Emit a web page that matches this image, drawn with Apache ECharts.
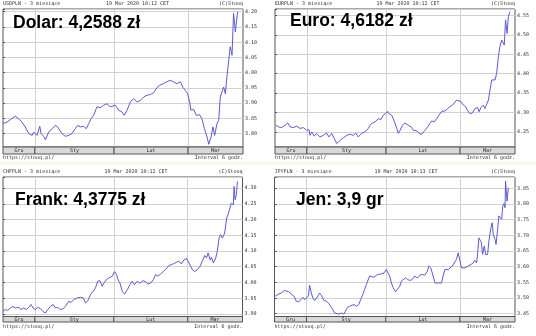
<!DOCTYPE html>
<html><head><meta charset="utf-8">
<script src="https://cdn.jsdelivr.net/npm/echarts@6/dist/echarts.min.js"></script>
<style>html,body{margin:0;padding:0;background:#fff}#c{width:536px;height:336px}</style>
</head><body><div id="c"></div>
<script>
// ---- data ----
const dayMax = 94; // days shown (19 Dec 2019 .. ~22 Mar 2020)
const monthNames = ['Gru', 'Sty', 'Lut', 'Mar'];
const monthEdges = [0, 12.5, 43.5, 72.5, 94];

const usdDays = [0,1.6,2.9,4.8,6.1,7.4,8.7,10.1,11.4,12.0,13.3,14.4,14.9,15.9,16.6,17.9,19.2,20.5,21.4,22.2,23.1,24.4,25.7,27.0,28.3,29.2,30.3,31.6,32.6,33.6,34.5,35.5,36.8,38.1,39.4,40.7,42.0,42.7,44.0,45.3,46.6,47.5,48.6,49.9,51.2,52.5,53.8,55.1,56.4,57.7,59.0,60.3,61.4,62.9,64.2,65.5,66.8,68.1,69.5,70.5,71.4,72.3,73.1,73.6,74.7,75.7,77.0,77.9,78.9,79.9,80.6,81.5,82.2,82.9,83.8,84.5,85.1,85.8,86.4,87.1,87.7,88.4,89.0,89.7,90.3,91.0,91.9];
const usdRates = [3.833,3.838,3.846,3.857,3.849,3.838,3.822,3.800,3.794,3.805,3.794,3.824,3.800,3.791,3.780,3.805,3.816,3.827,3.822,3.811,3.800,3.791,3.794,3.800,3.816,3.827,3.822,3.824,3.816,3.833,3.849,3.860,3.888,3.885,3.893,3.898,3.888,3.882,3.893,3.877,3.871,3.860,3.877,3.904,3.915,3.904,3.909,3.920,3.926,3.928,3.934,3.951,3.959,3.964,3.970,3.975,3.970,3.964,3.970,3.951,3.942,3.931,3.904,3.877,3.879,3.860,3.862,3.849,3.816,3.789,3.765,3.789,3.822,3.794,3.833,3.844,3.920,3.926,3.953,3.931,3.986,3.992,4.085,4.057,4.195,4.134,4.200];

const eurDays = [0.3,1.3,2.6,3.9,5.0,5.9,7.2,8.5,9.8,11.1,12.4,13.3,13.7,14.4,15.4,16.3,17.6,18.9,20.2,21.1,22.2,23.2,24.2,25.5,26.8,28.1,29.4,30.7,31.6,32.6,33.9,35.2,36.6,37.2,38.1,39.2,40.5,41.5,42.4,43.3,44.1,44.6,45.7,46.7,47.7,48.3,49.0,49.9,50.9,52.2,53.3,54.2,55.5,56.4,57.4,58.7,59.8,60.7,61.4,62.4,63.3,64.2,65.3,66.6,67.6,68.5,69.5,70.2,71.1,71.8,72.8,73.8,74.7,75.5,76.4,77.3,78.3,79.4,79.9,80.7,81.6,82.2,82.9,83.6,84.2,84.9,85.5,86.2,86.8,87.5,88.1,88.8,89.4,89.8,90.3,90.9,91.4,92.0];
const eurRates = [4.267,4.263,4.261,4.267,4.273,4.263,4.261,4.265,4.259,4.261,4.254,4.256,4.241,4.250,4.239,4.246,4.237,4.241,4.247,4.237,4.246,4.233,4.220,4.228,4.235,4.241,4.244,4.241,4.247,4.237,4.246,4.250,4.259,4.267,4.273,4.276,4.284,4.282,4.293,4.297,4.303,4.297,4.293,4.278,4.259,4.246,4.254,4.267,4.273,4.267,4.263,4.254,4.253,4.246,4.244,4.254,4.263,4.272,4.278,4.276,4.284,4.293,4.303,4.304,4.310,4.315,4.319,4.316,4.332,4.334,4.328,4.319,4.315,4.304,4.297,4.299,4.310,4.313,4.302,4.313,4.319,4.310,4.315,4.332,4.358,4.384,4.388,4.384,4.401,4.444,4.470,4.487,4.483,4.474,4.539,4.504,4.547,4.560];

const chfDays = [0,0.9,1.8,2.9,3.9,4.8,6.2,7.1,8.1,9.2,10.1,11.0,11.8,12.7,13.6,14.7,15.7,16.6,17.6,18.6,19.7,20.6,21.5,22.5,23.6,24.5,25.8,26.7,27.8,29.1,30.4,31.5,32.4,33.3,34.3,35.4,36.3,37.2,38.0,38.9,39.6,40.6,41.5,42.9,43.8,44.6,45.1,45.9,46.8,47.7,48.8,49.8,50.7,51.6,52.7,53.7,55.0,56.0,56.9,57.9,59.0,59.9,60.8,61.9,62.9,63.8,65.1,66.1,67.1,68.2,69.1,70.0,71.0,72.1,73.0,73.6,74.3,75.2,76.3,77.3,78.2,79.2,79.9,80.5,81.3,81.8,82.6,83.5,84.1,84.8,85.4,86.1,87.0,87.8,88.3,89.1,89.6,90.4,90.7,91.1,91.6,92.0];
const chfRates = [3.908,3.914,3.911,3.919,3.924,3.919,3.921,3.914,3.919,3.914,3.921,3.930,3.919,3.914,3.921,3.917,3.908,3.903,3.914,3.924,3.930,3.919,3.921,3.914,3.917,3.924,3.940,3.937,3.946,3.951,3.953,3.951,3.935,3.942,3.961,3.972,3.983,4.004,4.006,3.988,3.998,4.009,4.014,4.020,4.035,4.025,4.009,3.998,3.972,3.963,3.977,3.993,4.004,3.993,4.004,3.998,4.006,4.002,3.995,3.998,4.009,4.025,4.020,4.027,4.035,4.041,4.054,4.057,4.060,4.065,4.067,4.059,4.072,4.076,4.062,4.057,4.041,4.035,4.041,4.051,4.067,4.086,4.078,4.094,4.072,4.080,4.062,4.078,4.099,4.141,4.152,4.141,4.157,4.205,4.215,4.237,4.252,4.247,4.305,4.263,4.279,4.321];

const jpyDays = [0.3,1.3,2.6,3.9,4.6,5.5,6.5,7.6,8.5,9.4,10.4,11.1,11.7,12.4,12.8,13.3,13.7,14.4,15.0,15.7,16.3,17.0,17.6,18.3,19.3,20.2,21.1,21.9,22.8,23.5,24.2,25.1,26.1,27.2,27.7,28.5,29.4,30.0,31.1,32.0,32.9,33.7,34.6,35.2,35.9,36.6,37.2,37.9,38.9,39.8,40.7,41.8,42.8,43.7,44.4,45.0,45.7,46.3,47.3,48.0,49.0,49.6,50.3,51.2,52.0,52.9,53.8,54.8,55.9,56.8,57.7,58.7,59.8,60.3,61.1,62.0,62.7,63.3,64.2,65.3,65.9,66.6,67.2,67.9,68.5,69.5,70.2,71.1,71.8,72.5,73.1,73.8,74.4,75.1,75.7,76.8,77.7,78.3,79.0,79.4,79.9,80.5,80.9,81.3,82.0,82.5,83.3,83.8,84.6,85.1,85.5,86.2,86.6,87.2,87.7,88.1,88.8,89.2,89.7,90.1,90.3,90.9,91.4];
const jpyRates = [3.506,3.511,3.516,3.524,3.527,3.520,3.513,3.506,3.490,3.488,3.495,3.502,3.495,3.492,3.502,3.509,3.541,3.516,3.500,3.492,3.488,3.506,3.516,3.509,3.492,3.490,3.484,3.474,3.463,3.452,3.447,3.449,3.452,3.449,3.458,3.470,3.474,3.479,3.479,3.474,3.479,3.495,3.513,3.527,3.543,3.548,3.570,3.564,3.566,3.573,3.575,3.577,3.580,3.591,3.586,3.570,3.548,3.534,3.520,3.527,3.538,3.554,3.559,3.564,3.559,3.556,3.559,3.570,3.564,3.573,3.575,3.573,3.586,3.602,3.596,3.570,3.548,3.543,3.548,3.548,3.570,3.591,3.596,3.591,3.596,3.602,3.607,3.623,3.644,3.639,3.596,3.602,3.596,3.598,3.602,3.607,3.612,3.620,3.612,3.644,3.692,3.698,3.676,3.639,3.666,3.639,3.639,3.682,3.724,3.740,3.703,3.687,3.671,3.719,3.762,3.767,3.751,3.793,3.801,3.788,3.873,3.809,3.852];

const pairs = ['USDPLN', 'EURPLN', 'CHFPLN', 'JPYPLN'];
const headlines = ['Dolar: 4,2588 zł', 'Euro: 4,6182 zł', 'Frank: 4,3775 zł', 'Jen: 3,9 gr'];
const stamps = ['19 Mar 2020 10:12 CET', '19 Mar 2020 10:12 CET', '19 Mar 2020 10:12 CET', '19 Mar 2020 10:13 CET'];
const seriesDays = [usdDays, eurDays, chfDays, jpyDays];
const seriesRates = [usdRates, eurRates, chfRates, jpyRates];
const yRanges = [[3.756, 4.209], [4.211, 4.567], [3.892, 4.335], [3.441, 3.886]];

// ---- layout ----
const layout = [
  {left: 3,   top: 9,   width: 240, height: 138,   bandH: 7,   titleX: 13,  titleY: 23.5, dateX: 137.5, headY: 4,   footY: 158, split: 9},
  {left: 275, top: 9,   width: 240, height: 138,   bandH: 7,   titleX: 290, titleY: 21.5, dateX: 408,   headY: 4,   footY: 158, split: 7},
  {left: 3,   top: 177, width: 239.5, height: 139.5, bandH: 5.5, titleX: 15,  titleY: 200,  dateX: 136,   headY: 172, footY: 327, split: 9},
  {left: 274.5, top: 177, width: 240.5, height: 139.5, bandH: 5.5, titleX: 296, titleY: 200.5, dateX: 406, headY: 172, footY: 327, split: 9}
];

const mono = '"DejaVu Sans Mono"';
const grids = [], xAxes = [], yAxes = [], series = [], graphics = [];

graphics.push({type: 'rect', shape: {x: 0, y: 162, width: 536, height: 3}, style: {fill: '#fbf8e8'}, silent: true});

layout.forEach((L, i) => {
  grids.push({left: L.left, top: L.top, width: L.width, height: L.height, show: true,
    borderColor: '#555', borderWidth: 1, backgroundColor: '#fff', containLabel: false});
  grids.push({left: L.left, top: L.top + L.height, width: L.width, height: L.bandH, show: false, containLabel: false});

  xAxes.push({gridIndex: 2 * i, type: 'value', min: 0, max: dayMax,
    axisLine: {show: false}, axisLabel: {show: false},
    axisTick: {show: false, customValues: monthEdges.slice(1, 4)},
    splitLine: {show: true, lineStyle: {color: '#d2d2d2', width: 1}}});
  xAxes.push({gridIndex: 2 * i + 1, type: 'value', min: 0, max: dayMax, show: false});

  const [yMin, yMax] = yRanges[i];
  yAxes.push({gridIndex: 2 * i, type: 'value', position: 'right', min: yMin, max: yMax, splitNumber: L.split, scale: true,
    axisLine: {show: false},
    axisTick: {show: true, length: 2, lineStyle: {color: '#555'}},
    axisLabel: {fontSize: 5, fontFamily: mono, color: '#333', margin: 2,
      showMinLabel: false, showMaxLabel: false, formatter: v => v.toFixed(2)},
    splitLine: {show: true, lineStyle: {color: '#d2d2d2', width: 1}}});
  yAxes.push({gridIndex: 2 * i, type: 'value', position: 'left', min: yMin, max: yMax, splitNumber: L.split, scale: true,
    axisLine: {show: false}, axisLabel: {show: false}, splitLine: {show: false},
    axisTick: {show: true, inside: true, length: 2, lineStyle: {color: '#555'}}});
  yAxes.push({gridIndex: 2 * i + 1, type: 'value', min: 0, max: 1, show: false});

  const days = seriesDays[i], rates = seriesRates[i];
  series.push({type: 'line', xAxisIndex: 2 * i, yAxisIndex: 3 * i,
    data: days.map((d, k) => [d, rates[k]]), showSymbol: false, symbol: 'none',
    lineStyle: {color: '#5b5bd2', width: 1}, animation: false, silent: true, z: 3});

  series.push({type: 'custom', xAxisIndex: 2 * i + 1, yAxisIndex: 3 * i + 2,
    data: monthNames.map((n, k) => [monthEdges[k], monthEdges[k + 1], k]),
    encode: {x: [0, 1], y: 2}, animation: false, silent: true,
    renderItem: (params, api) => {
      const p0 = api.coord([api.value(0), 1]);
      const p1 = api.coord([api.value(1), 0]);
      const name = monthNames[api.value(2)];
      return {type: 'group', children: [
        {type: 'rect', shape: {x: p0[0], y: p0[1], width: p1[0] - p0[0], height: p1[1] - p0[1]},
          style: {fill: '#d9d9d9', stroke: '#555', lineWidth: 1}},
        {type: 'text', style: {text: name, x: (p0[0] + p1[0]) / 2, y: (p0[1] + p1[1]) / 2 + 0.5,
          align: 'center', verticalAlign: 'middle', font: '5px ' + mono, fill: '#222'}}
      ]};
    }});

  const right = L.left + L.width;
  const small = (text, x, y, align) => ({type: 'text', x: x, y: y, silent: true,
    style: {text: text, font: '5px ' + mono, fill: '#333', align: align, verticalAlign: 'middle'}});
  graphics.push(small(pairs[i] + ' - 3 miesiące', L.left, L.headY, 'left'));
  graphics.push(small(stamps[i], L.dateX, L.headY, 'center'));
  graphics.push(small('(C)Stooq', right, L.headY, 'right'));
  graphics.push(small('https://stooq.pl/', L.left, L.footY, 'left'));
  graphics.push(small('Interval 6 godz.', right, L.footY, 'right'));
  graphics.push({type: 'text', x: L.titleX, y: L.titleY, silent: true, z: 10,
    style: {text: headlines[i], font: 'bold 17.5px "Liberation Sans", Arial, sans-serif', fill: '#000',
      align: 'left', verticalAlign: 'middle'}});
});

const chart = echarts.init(document.getElementById('c'), null, {renderer: 'canvas'});
chart.setOption({
  backgroundColor: '#fff',
  animation: false,
  grid: grids, xAxis: xAxes, yAxis: yAxes, series: series, graphic: graphics
});
</script></body></html>
